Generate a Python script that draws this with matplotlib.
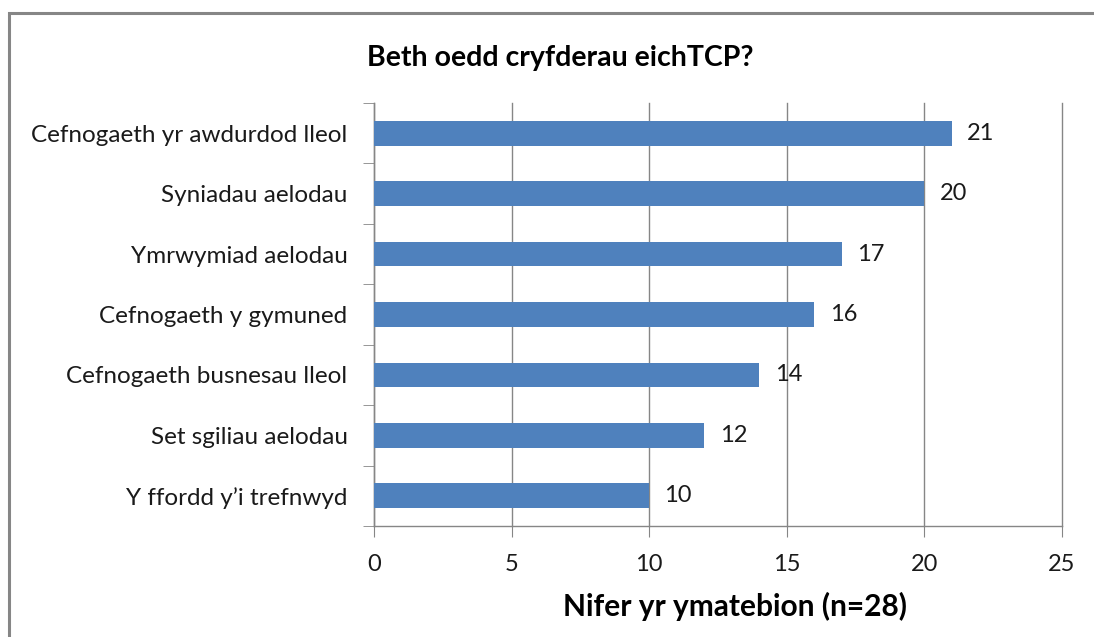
import matplotlib
matplotlib.use("Agg")
import matplotlib.pyplot as plt
from matplotlib.patches import Rectangle

categories = ["Cefnogaeth yr awdurdod lleol", "Syniadau aelodau", "Ymrwymiad aelodau",
              "Cefnogaeth y gymuned", "Cefnogaeth busnesau lleol", "Set sgiliau aelodau",
              "Y ffordd y\u2019i trefnwyd"]
values = [21, 20, 17, 16, 14, 12, 10]
xticks = [0, 5, 10, 15, 20, 25]
title = "Beth oedd cryfderau eichTCP?"
xlabel = "Nifer yr ymatebion (n=28)"

plt.rcParams['font.family'] = ['Lato', 'DejaVu Sans']

fig = plt.figure(figsize=(10.94, 6.37), dpi=100)
ax = fig.add_axes([374/1094, 1-526/637, (1062-374)/1094, (526-103)/637])

n = len(categories)
ypos = list(range(n - 1, -1, -1))
ax.barh(ypos, values, height=0.41, color="#4F81BD", zorder=3)
for y, v in zip(ypos, values):
    ax.annotate(str(v), (v, y), xytext=(11, 0), textcoords="offset points",
                ha="left", va="center", fontsize=17, color="#1a1a1a", zorder=4)

ax.set_xlim(0, 25)
ax.set_ylim(-0.5, n - 0.5)
ax.set_xticks(xticks)
ax.set_xticklabels([str(t) for t in xticks], fontsize=17, color="#1a1a1a")
ax.set_yticks(ypos)
ax.set_yticklabels(categories, fontsize=17.5, color="#1a1a1a")
ax.set_yticks([i - 0.5 for i in range(n + 1)], minor=True)
ax.tick_params(axis="y", which="major", length=0, pad=19)
ax.tick_params(axis="y", which="minor", length=8, color="#868686", direction="out")
ax.tick_params(axis="x", length=8, color="#868686", direction="out", pad=12)
ax.grid(axis="x", color="#868686", linewidth=1, zorder=0)
for gl in ax.get_xgridlines():
    gl.set_clip_on(False)
for s in ["top", "right"]:
    ax.spines[s].set_visible(False)
for s in ["left", "bottom"]:
    ax.spines[s].set_color("#868686")
    ax.spines[s].set_linewidth(1)

fig.text(560/1094, 1-58/637, title, ha="center", va="center", fontsize=20.5, fontweight="bold", color="#000000")
fig.text(735/1094, 1-606/637, xlabel, ha="center", va="center", fontsize=21.5, fontweight="bold", color="#000000")

fig.patches.append(Rectangle((9/1094, -0.1), 1.2, 1.1 - 13/637,
                             transform=fig.transFigure, fill=False,
                             edgecolor="#868686", linewidth=2.2, figure=fig))
fig.savefig("out.png", dpi=100)
